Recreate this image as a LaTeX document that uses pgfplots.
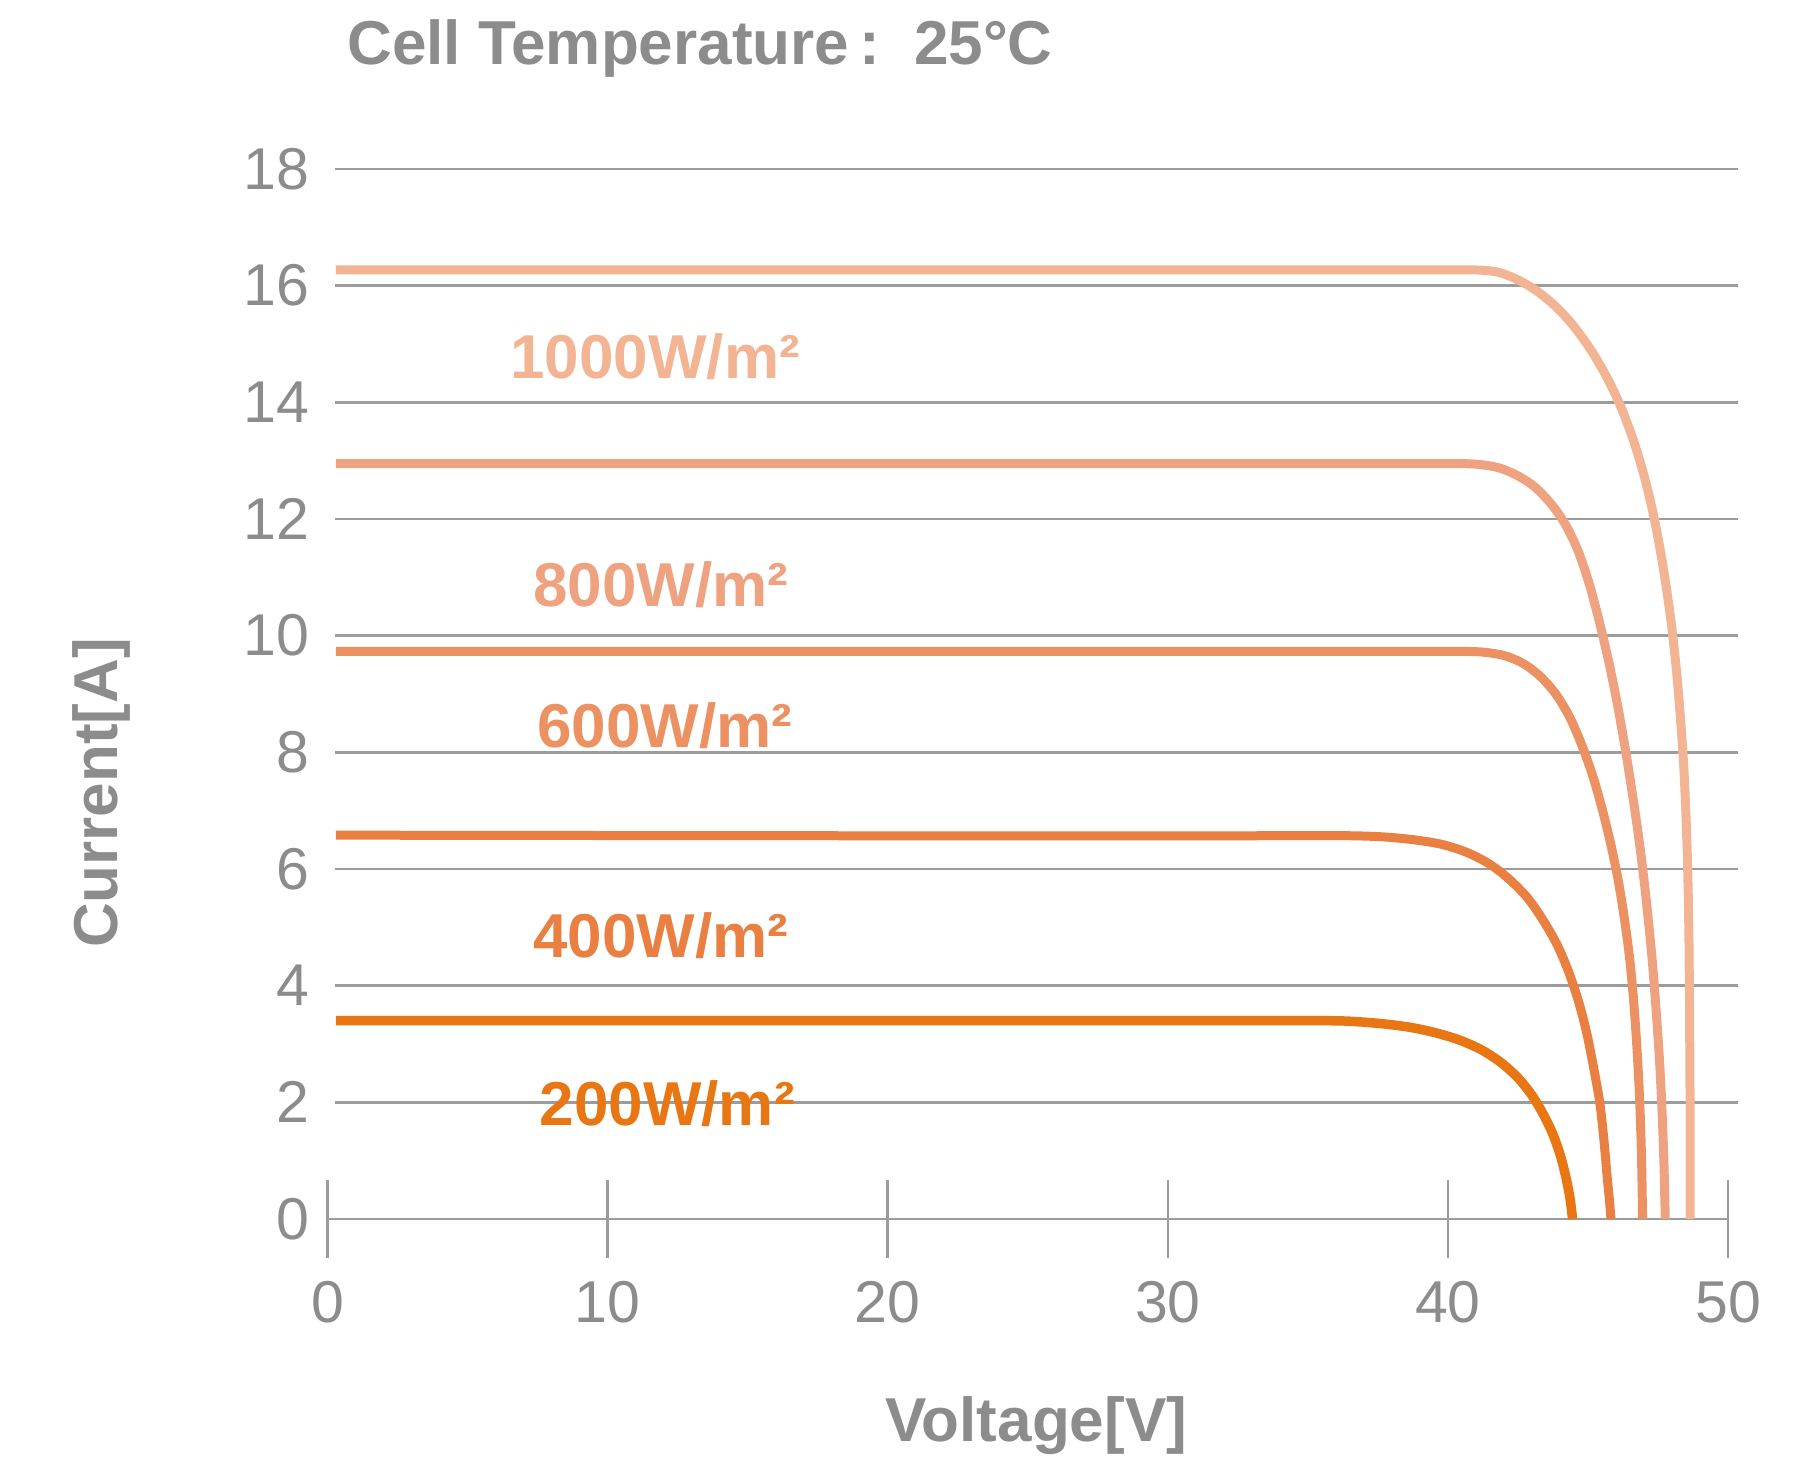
\documentclass[border=0pt]{standalone}
\usepackage{fontspec}
\setmainfont{Liberation Sans}
\usepackage{pgfplots}
\pgfplotsset{compat=1.18}
\definecolor{gtxt}{HTML}{8C8C8C}
\definecolor{gline}{HTML}{9C9C9C}
\definecolor{cA}{HTML}{F2B492}
\definecolor{cB}{HTML}{EFA27F}
\definecolor{cC}{HTML}{EC9162}
\definecolor{cD}{HTML}{E97F40}
\definecolor{cE}{HTML}{E87612}
\begin{document}
\begin{tikzpicture}
\path[use as bounding box] (-65.5pt,-50.2pt) rectangle (297.5pt,243.8pt);
\begin{axis}[
  scale only axis, width=280.1pt, height=210pt,
  xmin=0, xmax=50, ymin=0, ymax=18,
  clip=false,
  axis line style={draw=none},
  tick pos=left,
  tick align=center,
  major tick length=15.6pt,
  xtick={0,10,20,30,40,50},
  ytick={0,2,4,6,8,10,12,14,16,18},
  xtick style={gline, line width=0.5pt},
  ytick style={draw=none},
  /pgf/number format/assume math mode=true,
  xticklabel style={font=\fontsize{11.8}{13}\selectfont, text=gtxt, inner sep=0pt, anchor=north, yshift=-4.5pt},
  yticklabel style={font=\fontsize{11.8}{13}\selectfont, text=gtxt, inner sep=0pt, anchor=east, xshift=4.3pt},
  every axis plot/.append style={smooth, tension=0.5, line join=round, line cap=butt},
]
\foreach \yy in {2,4,...,18} {
  \edef\temp{\noexpand\draw[gline, line width=0.55pt] (axis cs:0.27,\yy) -- (axis cs:50.35,\yy);}
  \temp
}
\draw[gline, line width=0.55pt] (axis cs:0,0) -- (axis cs:50,0);

\addplot[cA, line width=1.8pt] coordinates {
(0.3,16.27) (20,16.27) (38,16.27) (40.0,16.27) (41.0,16.27) (41.8,16.23) (42.5,16.1) (43.2,15.9) (43.9,15.62) (44.5,15.3) (45.1,14.9) (45.65,14.45) (46.15,13.95) (46.6,13.38) (46.97,12.8) (47.28,12.2) (47.55,11.55) (47.79,10.85) (47.99,10.15) (48.16,9.4) (48.3,8.6) (48.42,7.75) (48.5,6.9) (48.56,6.0) (48.6,5.0) (48.62,4.0) (48.64,2.5) (48.65,1.2) (48.65,0)
};
\addplot[cB, line width=1.8pt] coordinates {
(0.3,12.95) (20,12.95) (38,12.95) (40.0,12.95) (41.0,12.94) (41.8,12.88) (42.5,12.74) (43.1,12.55) (43.7,12.25) (44.2,11.9) (44.65,11.45) (45.05,10.88) (45.4,10.25) (45.72,9.6) (46.02,8.9) (46.3,8.15) (46.55,7.4) (46.78,6.65) (46.98,5.9) (47.15,5.15) (47.3,4.4) (47.43,3.6) (47.55,2.75) (47.64,1.9) (47.71,1.0) (47.76,0)
};
\addplot[cC, line width=1.8pt] coordinates {
(0.3,9.73) (20,9.73) (38.5,9.73) (40.3,9.73) (41.2,9.72) (42.0,9.66) (42.7,9.52) (43.3,9.3) (43.85,9.0) (44.35,8.6) (44.8,8.1) (45.2,7.55) (45.55,6.95) (45.85,6.35) (46.1,5.75) (46.3,5.15) (46.48,4.5) (46.62,3.8) (46.74,3.0) (46.84,2.1) (46.91,1.1) (46.95,0)
};
\addplot[cD, line width=1.8pt] coordinates {
(0.3,6.58) (18,6.57) (34.5,6.57) (36.5,6.57) (37.7,6.55) (38.8,6.5) (39.8,6.42) (40.7,6.28) (41.5,6.08) (42.2,5.82) (42.85,5.5) (43.4,5.12) (43.9,4.7) (44.3,4.25) (44.65,3.75) (44.95,3.2) (45.2,2.6) (45.42,2.0) (45.57,1.35) (45.68,0.75) (45.77,0.3) (45.82,0)
};
\addplot[cE, line width=1.9pt] coordinates {
(0.3,3.40) (18,3.40) (33.5,3.40) (35.5,3.40) (36.5,3.39) (37.6,3.35) (38.6,3.29) (39.5,3.2) (40.4,3.07) (41.2,2.9) (41.9,2.68) (42.5,2.42) (43.0,2.12) (43.4,1.8) (43.75,1.45) (44.02,1.08) (44.22,0.7) (44.36,0.35) (44.45,0)
};

\node[cA, font=\fontsize{12.4}{14}\bfseries] at (axis cs:11.70,14.78) {1000W/m²};
\node[cB, font=\fontsize{12.4}{14}\bfseries] at (axis cs:11.90,10.87) {800W/m²};
\node[cC, font=\fontsize{12.4}{14}\bfseries] at (axis cs:12.04,8.45) {600W/m²};
\node[cD, font=\fontsize{12.4}{14}\bfseries] at (axis cs:11.90,4.85) {400W/m²};
\node[cE, font=\fontsize{12.4}{14}\bfseries] at (axis cs:12.13,1.97) {200W/m²};
\end{axis}
\node[text=gtxt, font=\fontsize{12.4}{14}\bfseries] at (74.5pt,234.2pt) {Cell Temperature\,:\hspace{0.55em}25°C};
\node[text=gtxt, font=\fontsize{12.4}{14}\bfseries, rotate=90] at (-45.2pt,85.2pt) {Current[A]};
\node[text=gtxt, font=\fontsize{12.4}{14}\bfseries] at (141.7pt,-41.4pt) {Voltage[V]};
\end{tikzpicture}
\end{document}
